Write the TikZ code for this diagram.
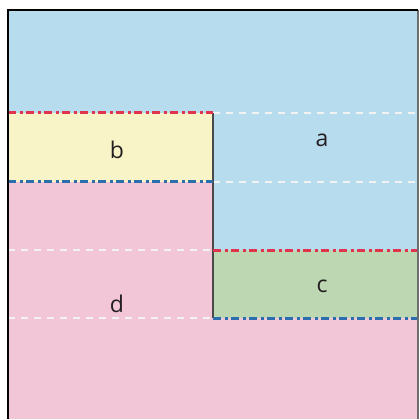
\documentclass[tikz,border=0pt]{standalone}
\usepackage{fontspec}
\setsansfont{Open Sans}
\definecolor{Sky}{HTML}{B6DCEE}
\definecolor{Cream}{HTML}{F9F4C8}
\definecolor{Rose}{HTML}{F2C5D7}
\definecolor{Sage}{HTML}{BDD7B2}
\definecolor{RedLine}{HTML}{E0334E}
\definecolor{BlueLine}{HTML}{2B6EAE}
\definecolor{Wall}{HTML}{4A4A4A}
\definecolor{Ink}{HTML}{231F20}
\usetikzlibrary{positioning}

\begin{document}
\begin{tikzpicture}[
  x=1pt,y=-1pt,
  label/.style={font=\sffamily\fontsize{23}{27}\selectfont,text=Ink,inner sep=0pt},
  guide/.style={draw=white!90!gray,line width=1.2pt,dash pattern=on 7pt off 6pt},
  upper/.style={draw=RedLine,line width=3pt,dash pattern=on 8pt off 3.5pt on 3pt off 3.5pt},
  lower/.style={draw=BlueLine,line width=3pt,dash pattern=on 8pt off 3.5pt on 3pt off 3.5pt}
]
\useasboundingbox (0,0) rectangle (419,419);
% regions
\fill[Rose] (8,182) -- (213,182) -- (213,318) -- (418,318) -- (418,425) -- (8,425) -- cycle;
\fill[Sky] (8,10) -- (418,10) -- (418,250) -- (213,250) -- (213,113) -- (8,113) -- cycle;
\fill[Cream] (8,113) rectangle (213,182);
\fill[Sage] (213,250) rectangle (418,318);
% guide lines
\draw[guide] (213,113) -- (418,113);
\draw[guide] (213,182) -- (418,182);
\draw[guide] (8,250) -- (213,250);
\draw[guide] (8,318) -- (213,318);
% step
\draw[Wall,line width=1.8pt] (213,113) -- (213,318);
\draw[upper] (8,113) -- (213,113);
\draw[upper] (213,250) -- (418,250);
\draw[lower] (8,182) -- (213,182);
\draw[lower] (213,318) -- (418,318);
% frame
\draw[Wall!80,line width=1.2pt] (418,10) -- (418,425);
\draw[black,line width=2.4pt] (8,425) -- (8,10) -- (418,10);
% labels
\node[label] (a) at (322,140) {a};
\node[label] (b) at (117,150) {b};
\node[label] (c) at (322,286) {c};
\node[label] (d) at (117,304) {d};
\end{tikzpicture}
\end{document}
